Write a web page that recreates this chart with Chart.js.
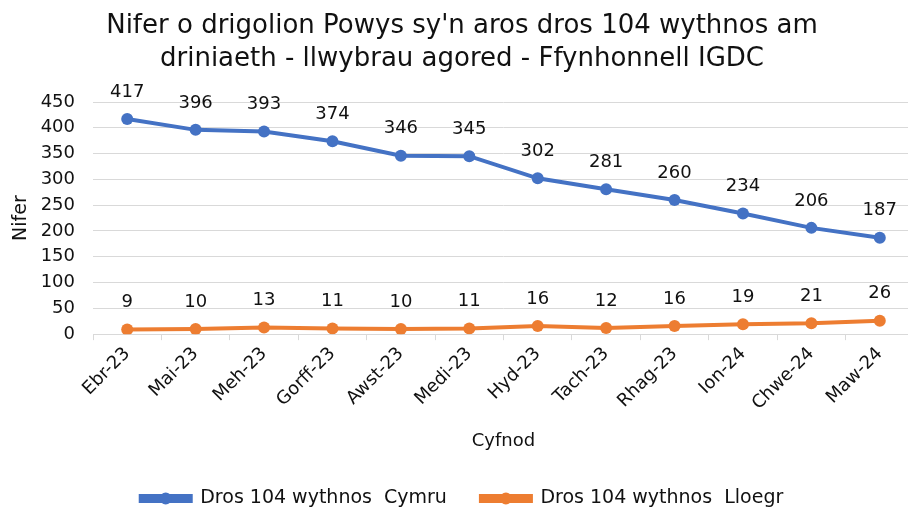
<!DOCTYPE html>
<html>
<head>
<meta charset="utf-8">
<script src="https://cdn.jsdelivr.net/npm/chart.js@4/dist/chart.umd.min.js"></script>
<style>
    html, body { margin: 0; padding: 0; background: #fff; overflow: hidden; }
    #wrap { width: 916px; height: 513px; }
</style>
</head>
<body>
<div id="wrap"><canvas id="graficoNifer"></canvas></div>
<script>
const cyfnodau = ['Ebr-23', 'Mai-23', 'Meh-23', 'Gorff-23', 'Awst-23', 'Medi-23', 'Hyd-23', 'Tach-23', 'Rhag-23', 'Ion-24', 'Chwe-24', 'Maw-24'];
const cymru = [417, 396, 393, 374, 346, 345, 302, 281, 260, 234, 206, 187];
const lloegr = [9, 10, 13, 11, 10, 11, 16, 12, 16, 19, 21, 26];
const yTicks = [0, 50, 100, 150, 200, 250, 300, 350, 400, 450];

const FONT = "'DejaVu Sans', Verdana, sans-serif";

// labeli uwchben pob pwynt
const labeliPwyntiau = {
    id: 'labeliPwyntiau',
    afterDatasetsDraw(chart) {
        const ctx = chart.ctx;
        ctx.save();
        ctx.font = '18px ' + FONT;
        ctx.fillStyle = '#111';
        ctx.textAlign = 'center';
        ctx.textBaseline = 'middle';
        chart.data.datasets.forEach((ds, i) => {
            chart.getDatasetMeta(i).data.forEach((pt, j) => {
                ctx.fillText(ds.data[j], pt.x, pt.y - 27);
            });
        });
        ctx.restore();
    }
};

// dot ar ganol llinell yr allwedd
const dotAllwedd = {
    id: 'dotAllwedd',
    afterDraw(chart) {
        const legend = chart.legend;
        if (!legend || !legend.legendHitBoxes) return;
        const ctx = chart.ctx;
        legend.legendHitBoxes.forEach((box, i) => {
            const ds = chart.data.datasets[i];
            ctx.save();
            ctx.fillStyle = ds.borderColor;
            ctx.beginPath();
            ctx.arc(box.left + 25, box.top + box.height / 2, 6, 0, Math.PI * 2);
            ctx.fill();
            ctx.restore();
        });
    }
};

new Chart(document.getElementById('graficoNifer').getContext('2d'), {
    type: 'line',
    data: {
        labels: cyfnodau,
        datasets: [{
            label: 'Dros 104 wythnos  Cymru',
            data: cymru,
            borderColor: '#4472C4',
            backgroundColor: '#4472C4',
            borderWidth: 4,
            pointRadius: 6,
            pointBorderWidth: 0,
            tension: 0
        }, {
            label: 'Dros 104 wythnos  Lloegr',
            data: lloegr,
            borderColor: '#ED7D31',
            backgroundColor: '#ED7D31',
            borderWidth: 4,
            pointRadius: 6,
            pointBorderWidth: 0,
            tension: 0
        }]
    },
    options: {
        responsive: true,
        maintainAspectRatio: false,
        animation: false,
        layout: { autoPadding: false, padding: { left: 10, right: 2, top: 10, bottom: -5 } },
        plugins: {
            title: {
                display: true,
                text: ["Nifer o drigolion Powys sy'n aros dros 104 wythnos am", 'driniaeth - llwybrau agored - Ffynhonnell IGDC'],
                color: '#111',
                font: { family: FONT, size: 26, weight: 'normal', lineHeight: 1.25 },
                padding: { top: 0, bottom: 27 }
            },
            legend: {
                position: 'bottom',
                labels: {
                    color: '#111',
                    font: { family: FONT, size: 19 },
                    boxWidth: 50,
                    boxHeight: 5,
                    padding: 34
                }
            },
            tooltip: { enabled: false }
        },
        scales: {
            x: {
                offset: true,
                grid: { display: true, drawOnChartArea: false, color: '#d9d9d9', tickLength: 6, offset: true },
                border: { color: '#d9d9d9' },
                ticks: {
                    color: '#111',
                    font: { family: FONT, size: 18 },
                    minRotation: 45,
                    maxRotation: 45,
                    autoSkip: false
                },
                title: {
                    display: true,
                    text: 'Cyfnod',
                    color: '#111',
                    font: { family: FONT, size: 18 },
                    padding: { top: 13, bottom: 3 }
                }
            },
            y: {
                min: 0,
                max: 450,
                afterBuildTicks: (axis) => { axis.ticks = yTicks.map(v => ({ value: v })); },
                afterFit: (axis) => { axis.width = 83; },
                grid: { color: '#d9d9d9', drawTicks: false },
                border: { display: false },
                ticks: {
                    color: '#111',
                    font: { family: FONT, size: 18 },
                    padding: 18,
                    autoSkip: false
                },
                title: {
                    display: true,
                    text: 'Nifer',
                    color: '#111',
                    font: { family: FONT, size: 19 },
                    padding: { top: 0, bottom: 7 }
                }
            }
        }
    },
    plugins: [labeliPwyntiau, dotAllwedd]
});
</script>
</body>
</html>
